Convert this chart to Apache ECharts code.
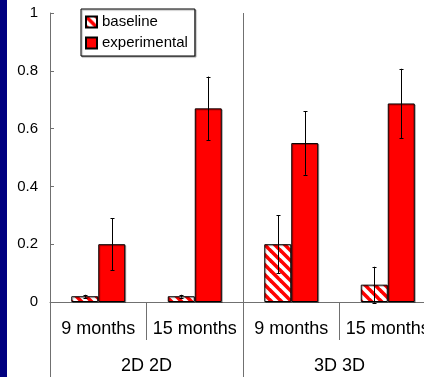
<!DOCTYPE html>
<html>
<head>
<meta charset="utf-8">
<script src="https://cdn.jsdelivr.net/npm/echarts@6/dist/echarts.min.js"></script>
<style>
html,body{margin:0;padding:0;background:#fff;overflow:hidden;}
#strip{position:absolute;left:0;top:0;width:7px;height:377px;background:#000080;}
#chart{position:absolute;left:0;top:0;width:424px;height:377px;}
</style>
</head>
<body>
<div id="chart"></div>
<div id="strip"></div>
<script>
// ---- data ----
const categories = ['9 months', '15 months', '9 months', '15 months'];
const groups = ['2D 2D', '3D 3D'];
const baseline = [0.02, 0.02, 0.20, 0.06];
const baselineErr = [0.005, 0.005, 0.10, 0.062];
const experimental = [0.20, 0.67, 0.55, 0.687];
const experimentalErr = [0.09, 0.11, 0.11, 0.12];
const yTicks = [0, 0.2, 0.4, 0.6, 0.8, 1];

// ---- striped pattern ----
function makeStripes() {
  const P = 10;
  const c = document.createElement('canvas');
  c.width = P; c.height = P;
  const ctx = c.getContext('2d');
  ctx.fillStyle = '#ffffff';
  ctx.fillRect(0, 0, P, P);
  ctx.strokeStyle = '#ff0000';
  ctx.lineWidth = P / Math.SQRT2 / 2;
  for (let k = -2 * P; k <= 2 * P; k += P) {
    ctx.beginPath();
    ctx.moveTo(k - P, -P);
    ctx.lineTo(k + 2 * P, 2 * P);
    ctx.stroke();
  }
  return c;
}
const stripePattern = { image: makeStripes(), repeat: 'repeat' };

const BAR_W = 27;
function errSeries(vals, errs, offset) {
  return {
    type: 'custom',
    xAxisIndex: 0,
    yAxisIndex: 0,
    z: 5,
    silent: true,
    clip: false,
    data: vals.map((v, i) => [i, v - errs[i], v + errs[i]]),
    renderItem: function (params, api) {
      const lo = api.coord([api.value(0), api.value(1)]);
      const hi = api.coord([api.value(0), api.value(2)]);
      const x = Math.round(lo[0] + offset) + 0.5;
      const st = { stroke: '#000', lineWidth: 1 };
      return {
        type: 'group',
        children: [
          { type: 'line', shape: { x1: x, y1: lo[1], x2: x, y2: hi[1] }, style: st },
          { type: 'line', shape: { x1: x - 2, y1: Math.round(lo[1]) + 0.5, x2: x + 2, y2: Math.round(lo[1]) + 0.5 }, style: st },
          { type: 'line', shape: { x1: x - 2, y1: Math.round(hi[1]) + 0.5, x2: x + 2, y2: Math.round(hi[1]) + 0.5 }, style: st }
        ]
      };
    }
  };
}

const axisGray = '#707070';
const font = 'Liberation Sans, Arial, sans-serif';

const chart = echarts.init(document.getElementById('chart'), null, { renderer: 'canvas' });
chart.setOption({
  animation: false,
  backgroundColor: 'transparent',
  grid: { left: 50, top: 13, width: 386, height: 289, containLabel: false, outerBoundsMode: 'none' },
  legend: {
    data: ['baseline', 'experimental'],
    orient: 'vertical',
    left: 81,
    top: 9,
    padding: [5, 7, 5, 4],
    itemGap: 5,
    itemWidth: 11,
    itemHeight: 11,
    icon: 'rect',
    borderColor: '#000',
    borderWidth: 1,
    backgroundColor: '#fff',
    shadowColor: 'rgba(0,0,0,0.35)',
    shadowOffsetX: 1,
    shadowOffsetY: 1,
    shadowBlur: 1,
    textStyle: { fontFamily: font, fontSize: 15, color: '#000', lineHeight: 16 }
  },
  xAxis: [
    {
      type: 'category',
      data: categories,
      position: 'bottom',
      boundaryGap: true,
      axisLine: { show: true, lineStyle: { color: axisGray, width: 1 } },
      axisTick: { show: true, interval: 0, length: 38, lineStyle: { color: axisGray } },
      axisLabel: { interval: 0, margin: 18, fontFamily: font, fontSize: 18, color: '#000', hideOverlap: false },
      splitLine: { show: false }
    },
    {
      type: 'category',
      data: groups,
      position: 'bottom',
      boundaryGap: true,
      axisLine: { show: false },
      axisTick: { show: true, interval: 0, length: 75, lineStyle: { color: axisGray } },
      axisLabel: { interval: 0, margin: 55, fontFamily: font, fontSize: 18, color: '#000' },
      splitLine: { show: true, interval: 0, lineStyle: { color: axisGray, width: 1 } }
    }
  ],
  yAxis: {
    type: 'value',
    min: 0,
    max: 1,
    interval: 0.2,
    axisLine: { show: true, lineStyle: { color: axisGray, width: 1 } },
    axisTick: { show: true, inside: true, length: 4, lineStyle: { color: axisGray } },
    splitLine: { show: false },
    axisLabel: {
      margin: 12,
      fontFamily: font,
      fontSize: 15,
      color: '#000',
      formatter: function (v) {
        const t = yTicks.find(t => Math.abs(t - v) < 1e-9);
        return t === undefined ? '' : String(t);
      }
    }
  },
  series: [
    {
      name: 'baseline',
      type: 'bar',
      xAxisIndex: 0,
      data: baseline,
      barWidth: BAR_W,
      barGap: '0%',
      itemStyle: { color: stripePattern, borderColor: '#000', borderWidth: 1,
                   shadowColor: 'rgba(0,0,0,0.3)', shadowOffsetX: 1, shadowOffsetY: 1 }
    },
    {
      name: 'experimental',
      type: 'bar',
      xAxisIndex: 0,
      data: experimental,
      barWidth: BAR_W,
      barGap: '0%',
      itemStyle: { color: '#ff0000', borderColor: '#000', borderWidth: 1,
                   shadowColor: 'rgba(0,0,0,0.3)', shadowOffsetX: 1, shadowOffsetY: 1 }
    },
    errSeries(baseline, baselineErr, -BAR_W / 2),
    errSeries(experimental, experimentalErr, BAR_W / 2)
  ]
});
</script>
</body>
</html>
